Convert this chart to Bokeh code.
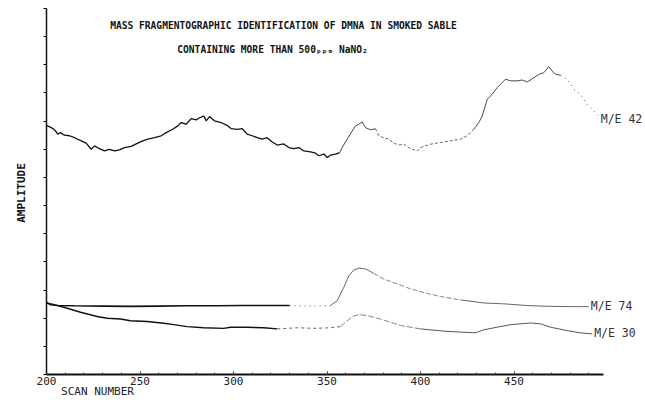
import math
from bokeh.plotting import figure
from bokeh.models import Label, Range1d, SingleIntervalTicker, CustomLabelingPolicy
from bokeh.embed import file_html
from bokeh.resources import INLINE

# ---------------- data ----------------
title_line1 = "MASS FRAGMENTOGRAPHIC IDENTIFICATION OF DMNA IN SMOKED SABLE"
title_line2 = "CONTAINING MORE THAN 500\u209a\u209a\u2098 NaNO\u2082"
x_label = "SCAN NUMBER"
y_label = "AMPLITUDE"
series_names = ["M/E 42", "M/E 74", "M/E 30"]
label_amp = [9.09, 2.42, 1.46]

me42_scan = [200.0, 202.5, 203.9, 205.2, 206.0, 207.5, 209.6, 212.3, 215.0, 218.6,
             221.2, 223.9, 225.7, 228.3, 231.0, 233.7, 236.4, 239.0, 241.7, 245.3,
             248.8, 251.5, 254.2, 257.8, 261.3, 264.0, 267.5, 270.2, 272.0, 274.7,
             277.4, 280.1, 281.8, 284.1, 285.4, 287.2, 289.8, 293.4, 297.0, 298.8,
             302.0, 304.7, 307.3, 310.0, 312.7, 315.3, 318.0, 320.7, 323.4, 326.9,
             329.6, 332.2, 334.9, 337.6, 341.2, 343.9, 345.6, 348.3, 350.1, 351.9,
             354.5, 356.8, 358.1, 360.8, 363.5, 365.2, 367.0, 368.8, 370.6, 373.3,
             375.9, 377.7, 380.4, 383.0, 385.7, 388.4, 391.1, 393.7, 395.6, 398.2,
             400.0, 405.3, 410.7, 416.0, 421.4, 425.0, 428.5, 431.2, 433.0, 435.7,
             438.3, 441.0, 443.7, 445.5, 448.1, 451.7, 454.4, 457.1, 460.6, 463.3,
             465.9, 468.6, 470.4, 472.2, 474.9, 478.4, 482.0, 485.6, 489.1, 492.7,
             495.3]
me42_amp = [8.85, 8.77, 8.71, 8.62, 8.54, 8.59, 8.50, 8.48, 8.41, 8.30,
            8.22, 8.00, 8.12, 8.02, 7.94, 8.00, 7.94, 7.98, 8.06, 8.10,
            8.22, 8.30, 8.36, 8.41, 8.48, 8.59, 8.71, 8.83, 8.95, 8.89,
            9.09, 9.04, 9.12, 9.18, 9.01, 9.16, 9.01, 8.95, 8.83, 8.73,
            8.71, 8.73, 8.54, 8.48, 8.41, 8.36, 8.41, 8.26, 8.15, 8.19,
            8.06, 8.02, 8.06, 7.94, 7.91, 7.86, 7.77, 7.83, 7.71, 7.79,
            7.83, 7.88, 8.06, 8.36, 8.65, 8.83, 8.89, 8.97, 8.77, 8.69,
            8.73, 8.48, 8.41, 8.36, 8.22, 8.15, 8.18, 8.06, 8.00, 7.94,
            8.06, 8.18, 8.24, 8.30, 8.36, 8.48, 8.71, 8.95, 9.18, 9.78,
            9.95, 10.19, 10.37, 10.49, 10.43, 10.43, 10.46, 10.39, 10.54, 10.66,
            10.72, 10.93, 10.78, 10.66, 10.63, 10.49, 10.13, 9.95, 9.60, 9.36,
            9.18]

me74_scan = [200.0, 202.0, 206.0, 215.0, 230.0, 245.0, 260.0, 275.0, 290.0, 305.0,
             320.0, 330.0, 341.2, 351.9, 355.4, 359.0, 361.7, 364.3, 367.0, 370.6,
             375.0, 380.4, 387.5, 394.7, 403.6, 410.7, 421.4, 433.9, 444.5, 457.0,
             469.5, 482.0, 490.0]
me74_amp = [2.56, 2.48, 2.45, 2.44, 2.43, 2.42, 2.43, 2.44, 2.44, 2.45,
            2.45, 2.45, 2.43, 2.45, 2.62, 3.10, 3.51, 3.71, 3.78, 3.75,
            3.59, 3.39, 3.22, 3.04, 2.88, 2.77, 2.65, 2.54, 2.51, 2.45,
            2.42, 2.41, 2.41]

me30_scan = [200.0, 203.0, 209.3, 218.2, 227.1, 232.5, 239.6, 244.9, 253.8, 262.7,
             268.1, 275.2, 284.1, 294.8, 298.4, 307.3, 316.2, 323.4, 334.1, 343.0,
             351.9, 357.2, 359.9, 363.5, 367.0, 371.5, 378.6, 389.3, 400.0, 412.5,
             423.2, 429.4, 433.9, 441.0, 448.1, 458.8, 464.2, 469.5, 478.4, 485.6,
             491.8]
me30_amp = [2.54, 2.50, 2.39, 2.21, 2.06, 2.00, 1.97, 1.91, 1.88, 1.82,
            1.77, 1.70, 1.66, 1.64, 1.68, 1.68, 1.66, 1.62, 1.66, 1.64,
            1.66, 1.70, 1.85, 2.06, 2.13, 2.09, 1.97, 1.74, 1.62, 1.54,
            1.50, 1.48, 1.59, 1.68, 1.77, 1.83, 1.80, 1.68, 1.56, 1.48,
            1.44]

# ---------------- pen styles (plotter pen gets fainter in places) ----------------
# (start scan, end scan, color, width, dash)
styles42 = [(200.0, 356.8, "#111111", 1.3, "solid"),
            (356.8, 375.9, "#333333", 0.9, "solid"),
            (375.9, 428.5, "#555555", 0.9, "3 2"),
            (428.5, 474.9, "#333333", 0.9, "solid"),
            (474.9, 495.3, "#555555", 1.0, "1 4")]
styles74 = [(200.0, 330.0, "#111111", 1.6, "solid"),
            (330.0, 351.9, "#666666", 1.0, "1 4"),
            (351.9, 375.0, "#555555", 0.9, "solid"),
            (375.0, 421.4, "#777777", 0.9, "5 2"),
            (421.4, 490.0, "#555555", 0.9, "solid")]
styles30 = [(200.0, 323.4, "#111111", 1.4, "solid"),
            (323.4, 357.2, "#666666", 1.0, "3 3"),
            (357.2, 400.0, "#777777", 0.9, "6 2"),
            (400.0, 491.8, "#444444", 0.9, "solid")]

# frame covers the whole canvas; axes are pinned at scan 200 / amplitude 0
p = figure(width=645, height=402, output_backend="svg", toolbar_location=None,
           x_range=Range1d(175.40, 520.32), y_range=Range1d(-0.9945, 13.284),
           min_border=0, min_border_left=0, min_border_right=0,
           min_border_top=0, min_border_bottom=0,
           background_fill_color="white", border_fill_color="white")
p.title.visible = False
p.outline_line_color = None
p.xgrid.visible = False
p.ygrid.visible = False

for xs, ys, st in [(me42_scan, me42_amp, styles42),
                   (me74_scan, me74_amp, styles74),
                   (me30_scan, me30_amp, styles30)]:
    for (a, b, col, w, dash) in st:
        sx = [x for x in xs if a <= x <= b]
        sy = [y for x, y in zip(xs, ys) if a <= x <= b]
        p.line(sx, sy, line_color=col, line_width=w, line_dash=dash)

# axes
p.xaxis.fixed_location = 0
p.xaxis.bounds = (200, 498)
p.xaxis.ticker = SingleIntervalTicker(interval=50, num_minor_ticks=5)
p.xaxis.axis_line_width = 2
p.xaxis.axis_line_color = "#111111"
p.xaxis.major_tick_in = 3
p.xaxis.major_tick_out = 0
p.xaxis.minor_tick_in = 2
p.xaxis.minor_tick_out = 0
p.xaxis.major_tick_line_color = "#222222"
p.xaxis.minor_tick_line_color = "#444444"
p.xaxis.major_label_text_font = "DejaVu Sans Mono"
p.xaxis.major_label_text_font_size = "11px"
p.xaxis.major_label_text_color = "#222222"
p.xaxis.major_label_standoff = 2

p.yaxis.fixed_location = 200
p.yaxis.bounds = (0, 13)
p.yaxis.ticker = SingleIntervalTicker(interval=1, num_minor_ticks=0)
p.yaxis.axis_line_width = 1.5
p.yaxis.axis_line_color = "#111111"
p.yaxis.major_tick_in = 0
p.yaxis.major_tick_out = 3
p.yaxis.minor_tick_line_color = None
p.yaxis.major_label_policy = CustomLabelingPolicy(code="return new Set()")

mono = "DejaVu Sans Mono"
p.add_layout(Label(x=326.7, y=12.41, text=title_line1, text_font=mono,
                   text_font_style="bold", text_font_size="9.6px",
                   text_align="center", text_baseline="middle", text_color="#111111"))
p.add_layout(Label(x=320.9, y=11.54, text=title_line2, text_font=mono,
                   text_font_style="bold", text_font_size="9.6px",
                   text_align="center", text_baseline="middle", text_color="#111111"))
p.add_layout(Label(x=186.63, y=6.447, text=y_label, angle=math.pi / 2,
                   text_font=mono, text_font_style="bold", text_font_size="11px",
                   text_align="center", text_baseline="middle", text_color="#111111"))
p.add_layout(Label(x=227.27, y=-0.62, text=x_label, text_font=mono,
                   text_font_size="11px", text_align="center",
                   text_baseline="middle", text_color="#222222"))

ends = [me42_scan[-1], me74_scan[-1], me30_scan[-1]]
for name, lx, ly in zip(series_names, ends, label_amp):
    p.add_layout(Label(x=lx, y=ly, x_offset=2, text=name, text_font=mono,
                       text_font_size="11.5px", text_align="left",
                       text_baseline="middle", text_color="#333333"))

open("out.html", "w").write(file_html(p, INLINE, "DMNA mass fragmentography"))
